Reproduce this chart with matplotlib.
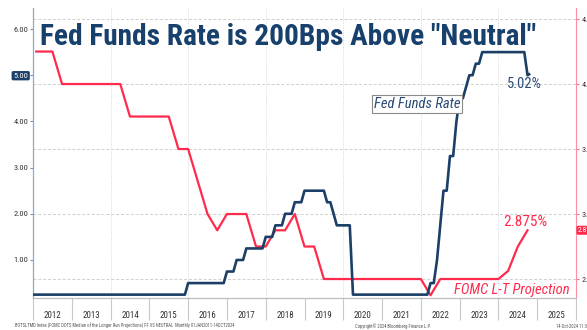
import matplotlib
matplotlib.use("Agg")
import matplotlib.pyplot as plt
from matplotlib.transforms import blended_transform_factory

NARROW = ['Roboto Condensed', 'DejaVu Sans Condensed', 'Liberation Sans Narrow',
          'Open Sans Condensed', 'DejaVu Sans']
TITLE_FONT = ['DejaVu Serif Condensed', 'Roboto Condensed', 'DejaVu Sans Condensed',
              'Liberation Sans Narrow', 'DejaVu Sans']

# fed funds upper bound, month-end positions (decimal years)
ff_x = [2012.0, 2015.917, 2016.0, 2016.917, 2017.0, 2017.167, 2017.25, 2017.417, 2017.5,
        2017.917, 2018.0, 2018.167, 2018.25, 2018.417, 2018.5, 2018.667, 2018.75, 2018.917,
        2019.0, 2019.5, 2019.583, 2019.667, 2019.75, 2019.833, 2020.167, 2020.25,
        2022.167, 2022.25, 2022.333, 2022.417, 2022.5, 2022.583, 2022.667, 2022.75, 2022.833,
        2022.917, 2023.0, 2023.083, 2023.167, 2023.25, 2023.333, 2023.417, 2023.5, 2023.583,
        2024.667, 2024.75, 2024.79]
ff_y = [0.25, 0.25, 0.5, 0.5, 0.75, 0.75, 1.0, 1.0, 1.25,
        1.25, 1.5, 1.5, 1.75, 1.75, 2.0, 2.0, 2.25, 2.25,
        2.5, 2.5, 2.25, 2.25, 2.0, 1.75, 1.75, 0.25,
        0.25, 0.5, 0.5, 1.0, 1.75, 2.5, 2.5, 3.25, 3.25,
        4.0, 4.5, 4.5, 4.75, 5.0, 5.0, 5.25, 5.25, 5.5,
        5.5, 5.0, 5.02]

# FOMC median longer-run projection
lt_x = [2012.083, 2012.5, 2012.75, 2014.25, 2014.5, 2015.5, 2015.75, 2016.0, 2016.25,
        2016.5, 2016.75, 2017.0, 2017.5, 2017.75, 2018.0, 2018.25, 2018.5, 2018.75,
        2019.0, 2019.25, 2019.5, 2022.0, 2022.25, 2022.5, 2024.0, 2024.25, 2024.5, 2024.75]
lt_y = [4.25, 4.25, 4.0, 4.0, 3.75, 3.75, 3.5, 3.5, 3.25,
        3.0, 2.875, 3.0, 3.0, 2.75, 2.75, 2.875, 2.875, 3.0,
        2.75, 2.75, 2.5, 2.5, 2.375, 2.5, 2.5, 2.5625, 2.75, 2.875]

years = list(range(2012, 2026))
left_ticks = [1, 2, 3, 4, 5, 6]
right_ticks = [2.5, 3.0, 3.5, 4.0, 4.5]

NAVY = '#1c3f68'
RED = '#ff2b4d'

W, H = 587, 330
fig = plt.figure(figsize=(W / 100, H / 100), dpi=100)
ax = fig.add_axes([33 / W, 32 / H, 543 / W, 290 / H])
ax2 = ax.twinx()

ax.set_xlim(2012, 2026)
ax.set_ylim(0.177, 6.455)
ax2.set_ylim(2.354, 4.585)

# grid (right axis based) and every-other-year verticals
for v in right_ticks:
    ax2.axhline(v, color='#cfcfcf', lw=0.7, ls=(0, (3, 2)), zorder=0)
for yr in range(2014, 2026, 2):
    ax2.axvline(yr, color='#d6d6d6', lw=0.7, ls=(0, (1, 1.5)), zorder=0)

ax2.plot(lt_x, lt_y, color=RED, lw=1.6, zorder=3)
ax.plot(ff_x, ff_y, color=NAVY, lw=1.9, zorder=3)
ax.set_zorder(ax2.get_zorder() + 1)
ax.patch.set_visible(False)

# x axis: separators at year boundaries, labels centred in each year
ax.set_xticks(range(2012, 2027))
ax.set_xticklabels([])
ax.set_xticks([y + 0.5 for y in years], minor=True)
ax.set_xticklabels([str(y) for y in years], minor=True, family=NARROW, fontsize=6.5,
                   color='#333333')
ax.tick_params(axis='x', which='major', length=16, color='#c8c8c8', width=0.8)
ax.tick_params(axis='x', which='minor', length=0, pad=9)

ax.set_yticks(left_ticks)
ax.set_yticklabels(['%.2f' % v for v in left_ticks], family=NARROW, fontsize=6,
                   color='#333333')
ax.tick_params(axis='y', length=2, color='#6d8fc0', pad=1.5)
ax2.set_yticks(right_ticks)
ax2.set_yticklabels(['%.1f' % v for v in right_ticks], family=NARROW, fontsize=6,
                    color='#333333')
ax2.tick_params(axis='y', length=2.5, color='#ff6f84', pad=1.5)

for a in (ax, ax2):
    a.spines['top'].set_visible(False)
    a.spines['bottom'].set_color('#bdbdbd')
ax.spines['right'].set_visible(False)
ax2.spines['left'].set_color('#8fa8c8')
ax2.spines['right'].set_color('#ff8fa0')
ax.spines['left'].set_color('#8fa8c8')

# boxed last-value tags
lab5 = ax.get_yticklabels()[4]
lab5.set_color('white')
lab5.set_bbox(dict(boxstyle='round,pad=0.2', fc=NAVY, ec='none'))
tr2 = blended_transform_factory(fig.transFigure, ax2.transData)
ax2.text(578 / W, 2.875, '2.875', transform=tr2, ha='left', va='center', fontsize=5.5,
         family=NARROW, color='white', clip_on=False,
         bbox=dict(boxstyle='round,pad=0.2', fc=RED, ec='none'))

# title, sized to span the same width as the original
title = fig.text(40 / W, 1 - 45 / H, 'Fed Funds Rate is 200Bps Above "Neutral"',
                 ha='left', va='baseline', fontsize=22, fontweight='bold',
                 family=TITLE_FONT, color='#17406d')
r = fig.canvas.get_renderer()
bw = title.get_window_extent(r).width
title.set_fontsize(22 * 495 / bw)

# annotations
fig.text(417 / W, 1 - 104 / H, 'Fed Funds Rate', ha='center', va='center', fontsize=10.5,
         style='italic', family=NARROW, color='#2b4a75',
         bbox=dict(boxstyle='square,pad=0.15', fc='white', ec='#8a8a8a', lw=0.8))
fig.text(524 / W, 1 - 84 / H, '5.02%', ha='center', va='center', fontsize=10.5,
         family=NARROW, color='#2b4a75')
fig.text(525 / W, 1 - 222 / H, '2.875%', ha='center', va='center', fontsize=11,
         family=NARROW, color=RED)
fig.text(512 / W, 1 - 290 / H, 'FOMC L-T Projection', ha='center', va='center', fontsize=10.5,
         style='italic', family=NARROW, color=RED)

# footer
fig.text(15 / W, 1 - 326 / H,
         'BOTSLTMD Index (FOMC DOTS Median of the Longer Run Projections) FF VS NEUTRAL  '
         'Monthly 01JAN2011-14OCT2024', ha='left', va='center', fontsize=3.3,
         family=NARROW, color='#555555')
fig.text(355 / W, 1 - 326 / H, 'Copyright\u00a9 2024 Bloomberg Finance L.P.', ha='left',
         va='center', fontsize=3.3, family=NARROW, color='#555555')
fig.text(556 / W, 1 - 326 / H, '14-Oct-2024 11:33:04', ha='left', va='center',
         fontsize=3.3, family=NARROW, color='#555555')

fig.savefig('out.png', dpi=100)
